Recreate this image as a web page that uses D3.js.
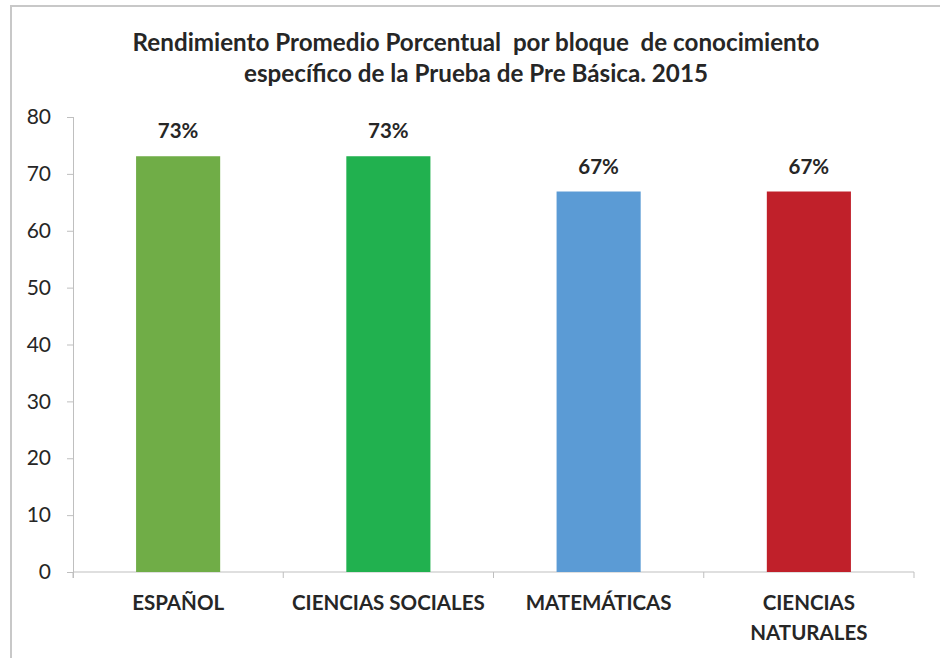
<!DOCTYPE html>
<html>
<head>
<meta charset="utf-8">
<script src="https://cdn.jsdelivr.net/npm/d3@7"></script>
<style>
body { margin: 0; background: #fff; }
svg text { font-family: Lato, "Open Sans", sans-serif; fill: #262626; }
</style>
</head>
<body>
<div class="chart"></div>
<script>
var categories = [["ESPAÑOL"], ["CIENCIAS SOCIALES"], ["MATEMÁTICAS"], ["CIENCIAS", "NATURALES"]];
var values = [73.1, 73.1, 66.9, 66.9];
var labels = ["73%", "73%", "67%", "67%"];
var colors = ["#70ad47", "#21b14f", "#5b9bd5", "#c0202a"];
var yTicks = [0, 10, 20, 30, 40, 50, 60, 70, 80];
var titleLines = ["Rendimiento Promedio Porcentual  por bloque  de conocimiento", "específico de la Prueba de Pre Básica. 2015"];

var width = 940, height = 658;
var margin = {left: 73, right: 26, top: 117, bottom: 86};

var svg = d3.select('.chart').append('svg').attr('width', width).attr('height', height);

// outer frame (only top and left visible)
svg.append('path')
  .attr('d', 'M11,' + height + 'V6H' + width)
  .attr('fill', 'none').attr('stroke', '#c8c8c8').attr('stroke-width', 2);

svg.append('text')
  .attr('x', 476).attr('y', 51)
  .attr('text-anchor', 'middle')
  .style('font-size', '24.2px').style('font-weight', 'bold')
  .style('white-space', 'pre')
  .selectAll('tspan').data(titleLines).enter().append('tspan')
  .attr('x', 476).attr('dy', function(d, i) { return i ? 31 : 0; })
  .text(function(d) { return d; });

var x = d3.scaleBand()
  .domain(d3.range(categories.length))
  .range([margin.left, width - margin.right])
  .paddingInner(0.6).paddingOuter(0.3);

var y = d3.scaleLinear().domain([0, 80]).range([height - margin.bottom, margin.top]);

var yAxis = svg.append('g')
  .attr('transform', 'translate(' + margin.left + ',0)')
  .call(d3.axisLeft(y).tickValues(yTicks).tickSize(6).tickPadding(16).tickSizeOuter(0));
yAxis.select('.domain').attr('stroke', '#bfbfbf').attr('d', 'M0.5,' + y(80) + 'V' + (y(0) + 6));
yAxis.selectAll('.tick line').attr('stroke', '#bfbfbf');
yAxis.selectAll('.tick text').style('font-size', '21px').attr('fill', '#262626');

// x axis with ticks at band boundaries
var bounds = d3.range(categories.length + 1).map(function(i) { return margin.left + i * x.step(); });
var xAxis = svg.append('g').attr('transform', 'translate(0,' + y(0) + ')');
xAxis.append('line').attr('x1', margin.left).attr('x2', width - margin.right)
  .attr('stroke', '#bfbfbf');
xAxis.selectAll('.xt').data(bounds).enter().append('line')
  .attr('x1', function(d) { return d; }).attr('x2', function(d) { return d; })
  .attr('y1', 0).attr('y2', 6).attr('stroke', '#bfbfbf');

svg.selectAll('.bar').data(values).enter().append('rect')
  .attr('x', function(d, i) { return x(i); })
  .attr('width', x.bandwidth())
  .attr('y', function(d) { return y(d); })
  .attr('height', function(d) { return y(0) - y(d); })
  .attr('fill', function(d, i) { return colors[i]; });

svg.selectAll('.lbl').data(values).enter().append('text')
  .attr('x', function(d, i) { return x(i) + x.bandwidth() / 2; })
  .attr('y', function(d) { return y(d) - 18; })
  .attr('text-anchor', 'middle')
  .style('font-size', '20.5px').style('font-weight', 'bold')
  .text(function(d, i) { return labels[i]; });

var cat = svg.selectAll('.cat').data(categories).enter().append('text')
  .attr('text-anchor', 'middle')
  .style('font-size', '20.5px').style('font-weight', 'bold')
  .attr('y', y(0) + 38);
cat.selectAll('tspan').data(function(d, i) { return d.map(function(t) { return {t: t, i: i}; }); })
  .enter().append('tspan')
  .attr('x', function(d) { return x(d.i) + x.bandwidth() / 2; })
  .attr('dy', function(d, j) { return j ? 30 : 0; })
  .text(function(d) { return d.t; });
</script>
</body>
</html>
